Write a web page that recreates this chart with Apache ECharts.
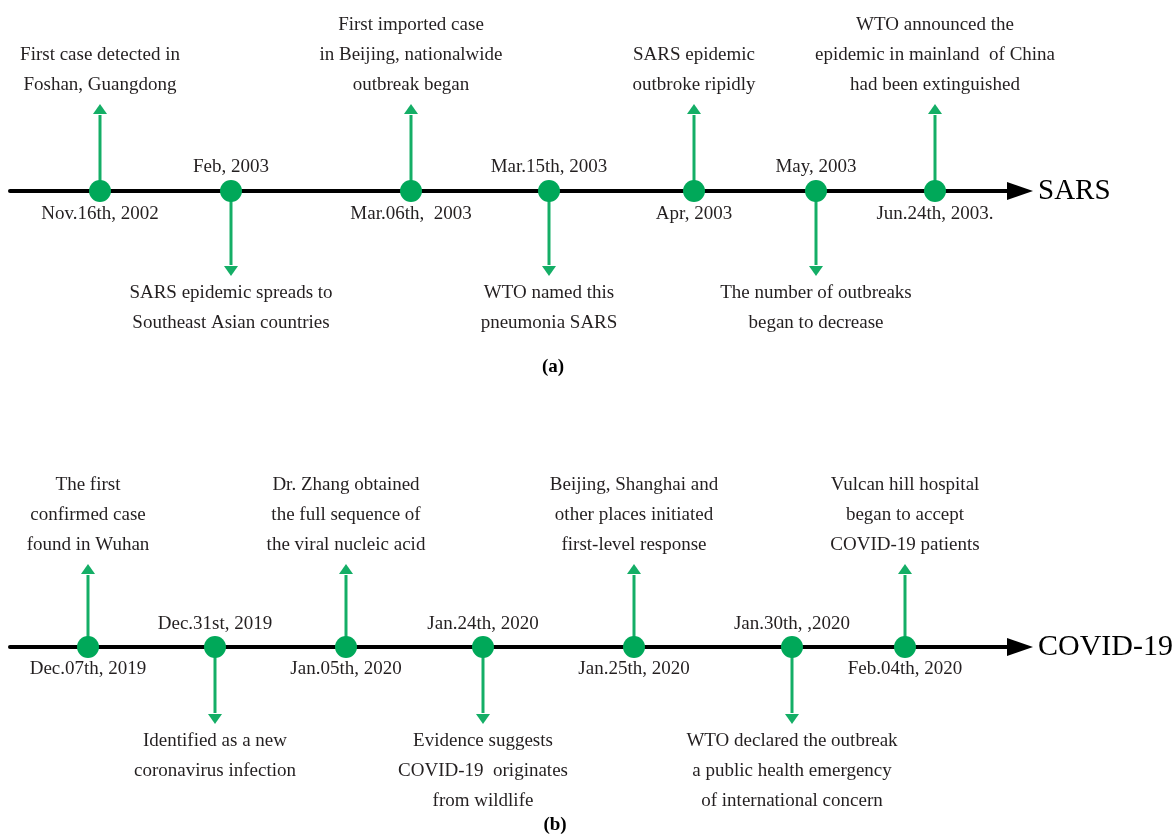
<!DOCTYPE html>
<html>
<head>
<meta charset="utf-8">
<script src="https://cdn.jsdelivr.net/npm/echarts@6/dist/echarts.min.js"></script>
<style>
html,body{margin:0;padding:0;background:#fff;}
#chart{width:1174px;height:839px;}
</style>
</head>
<body>
<div id="chart"></div>
<script>
// ---- Data: SARS timeline ----
const sarsPositions = [100, 231, 411, 549, 694, 816, 935];
const sarsDates = ['Nov.16th, 2002', 'Feb, 2003', 'Mar.06th,  2003', 'Mar.15th, 2003', 'Apr, 2003', 'May, 2003', 'Jun.24th, 2003.'];
const sarsDirections = ['up', 'down', 'up', 'down', 'up', 'down', 'up'];
const sarsEvents = [
  'First case detected in\nFoshan, Guangdong',
  'SARS epidemic spreads to\nSoutheast Asian countries',
  'First imported case\nin Beijing, nationalwide\noutbreak began',
  'WTO named this\npneumonia SARS',
  'SARS epidemic\noutbroke ripidly',
  'The number of outbreaks\nbegan to decrease',
  'WTO announced the\nepidemic in mainland  of China\nhad been extinguished'
];

// ---- Data: COVID-19 timeline ----
const covidPositions = [88, 215, 346, 483, 634, 792, 905];
const covidDates = ['Dec.07th, 2019', 'Dec.31st, 2019', 'Jan.05th, 2020', 'Jan.24th, 2020', 'Jan.25th, 2020', 'Jan.30th, ,2020', 'Feb.04th, 2020'];
const covidDirections = ['up', 'down', 'up', 'down', 'up', 'down', 'up'];
const covidEvents = [
  'The first\nconfirmed case\nfound in Wuhan',
  'Identified as a new\ncoronavirus infection',
  'Dr. Zhang obtained\nthe full sequence of\nthe viral nucleic acid',
  'Evidence suggests\nCOVID-19  originates\nfrom wildlife',
  'Beijing, Shanghai and\nother places initiated\nfirst-level response',
  'WTO declared the outbreak\na public health emergency\nof international concern',
  'Vulcan hill hospital\nbegan to accept\nCOVID-19 patients'
];

const panelNames = ['SARS', 'COVID-19'];
const panelTags = ['(a)', '(b)'];

// ---- Styles ----
const FONT = '"Liberation Serif", "Times New Roman", serif';
const GREEN_DOT = '#00A859';
const GREEN_ARROW = '#14AE66';
const TEXT_COLOR = '#231F20';

function makeArrowRender(dirs, texts, upLen, downLen) {
  return function (params, api) {
    const i = params.dataIndex;
    const x = api.value(0);
    const up = dirs[i] === 'up';
    const p0 = api.coord([x, 0]);
    const p1 = api.coord([x, up ? upLen : -downLen]);
    const head = 10, hw = 7;
    const s = up ? 1 : -1; // +1 means tip is above
    const baseY = p1[1] + s * head;
    return {
      type: 'group',
      children: [
        { type: 'line', shape: { x1: p0[0], y1: p0[1], x2: p0[0], y2: baseY + s * 1 },
          style: { stroke: GREEN_ARROW, lineWidth: 3 } },
        { type: 'polygon', shape: { points: [[p1[0] - hw, baseY], [p1[0] + hw, baseY], [p1[0], p1[1]]] },
          style: { fill: GREEN_ARROW } },
        { type: 'text',
          style: { text: texts[i], x: p1[0], y: up ? p1[1] - 4 : p1[1] + 2,
                   align: 'center', verticalAlign: up ? 'bottom' : 'top',
                   font: '19px ' + FONT, lineHeight: 30, fill: TEXT_COLOR } }
      ]
    };
  };
}

function dotData(positions, dirs) {
  return positions.map((p, i) => ({
    value: [p, 0],
    label: { position: dirs[i] === 'up' ? 'bottom' : 'top' }
  }));
}

const grids = [
  { left: 10, right: 154, top: 41, height: 300 },
  { left: 10, right: 154, top: 497, height: 300 }
];

function xAxisFor(gi) {
  return {
    gridIndex: gi, type: 'value', min: 10, max: 1020,
    axisLine: { show: true, onZero: true, lineStyle: { color: '#000', width: 4 },
                symbol: ['none', 'triangle'], symbolSize: [18, 26] },
    axisTick: { show: false }, axisLabel: { show: false }, splitLine: { show: false },
    name: panelNames[gi], nameLocation: 'end', nameGap: 18,
    nameTextStyle: { fontFamily: FONT, fontSize: gi === 0 ? 29 : 30, color: '#000', verticalAlign: 'middle', align: 'left' }
  };
}
function yAxisFor(gi) {
  return { gridIndex: gi, type: 'value', min: -150, max: 150, show: false,
           axisLine: { show: false }, splitLine: { show: false } };
}

const option = {
  backgroundColor: '#fff',
  animation: false,
  grid: grids,
  xAxis: [xAxisFor(0), xAxisFor(1)],
  yAxis: [yAxisFor(0), yAxisFor(1)],
  graphic: [
    { type: 'text', x: 553, y: 367, style: { text: panelTags[0], font: 'bold 19px ' + FONT, fill: '#000', align: 'center', verticalAlign: 'middle' } },
    { type: 'text', x: 555, y: 825, style: { text: panelTags[1], font: 'bold 19px ' + FONT, fill: '#000', align: 'center', verticalAlign: 'middle' } }
  ],
  series: [
    { type: 'custom', xAxisIndex: 0, yAxisIndex: 0, z: 2, clip: false,
      renderItem: makeArrowRender(sarsDirections, sarsEvents, 87, 85),
      data: sarsPositions.map(p => [p, 0]) },
    { type: 'scatter', xAxisIndex: 0, yAxisIndex: 0, z: 3, symbolSize: 22,
      itemStyle: { color: GREEN_DOT, opacity: 1 },
      label: { show: true, distance: 3, formatter: p => sarsDates[p.dataIndex],
               fontFamily: FONT, fontSize: 19, color: TEXT_COLOR },
      data: dotData(sarsPositions, sarsDirections) },
    { type: 'custom', xAxisIndex: 1, yAxisIndex: 1, z: 2, clip: false,
      renderItem: makeArrowRender(covidDirections, covidEvents, 83, 77),
      data: covidPositions.map(p => [p, 0]) },
    { type: 'scatter', xAxisIndex: 1, yAxisIndex: 1, z: 3, symbolSize: 22,
      itemStyle: { color: GREEN_DOT, opacity: 1 },
      label: { show: true, distance: 2, formatter: p => covidDates[p.dataIndex],
               fontFamily: FONT, fontSize: 19, color: TEXT_COLOR },
      data: dotData(covidPositions, covidDirections) }
  ]
};

const chart = echarts.init(document.getElementById('chart'), null, { renderer: 'canvas' });
chart.setOption(option);
</script>
</body>
</html>
